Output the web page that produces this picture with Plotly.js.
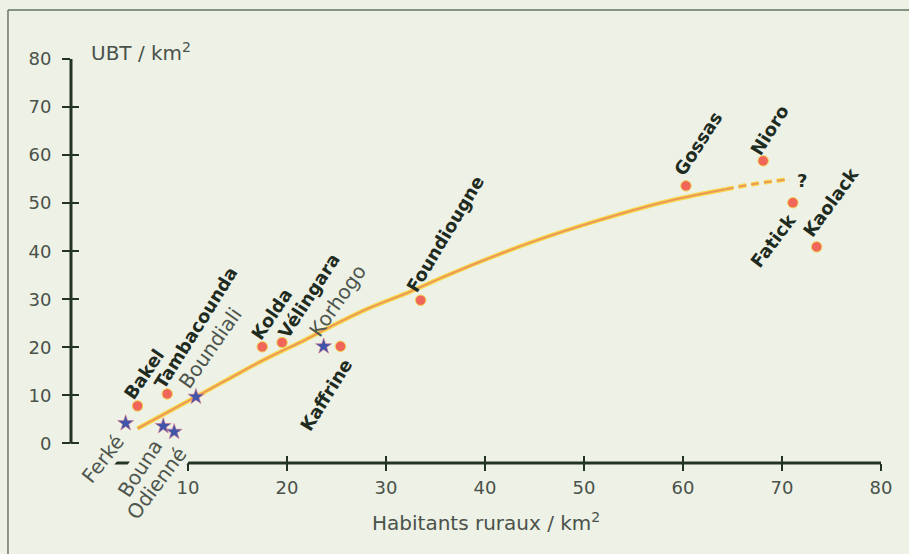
<!DOCTYPE html>
<html>
<head>
<meta charset="utf-8">
<script src="https://cdn.plot.ly/plotly-3.0.1.min.js"></script>
<style>html,body{margin:0;padding:0;background:#edf1e6;}#chart{width:909px;height:554px;}</style>
</head>
<body>
<div id="chart"></div>
<script>
// Senegal districts (red dots, bold labels)
const senegalNames = ['Bakel','Tambacounda','Kolda','Vélingara','Kaffrine','Foundiougne','Gossas','Nioro','Fatick','Kaolack'];
const senegalX = [4.9, 7.9, 17.5, 19.5, 25.4, 33.5, 60.3, 68.1, 71.1, 73.5];
const senegalY = [7.8, 10.3, 20.1, 21.0, 20.2, 29.8, 53.6, 58.8, 50.1, 40.9];

// Côte d'Ivoire districts (blue stars, regular labels)
const civNames = ['Ferké','Bouna','Odienné','Boundiali','Korhogo'];
const civX = [3.7, 7.5, 8.6, 10.8, 23.7];
const civY = [4.2, 3.6, 2.4, 9.7, 20.2];

// Trend curve (solid part, then dashed uncertain part)
const trendX = [4.9, 7.5, 10.8, 14, 17.3, 19.35, 21.3, 24.4, 28, 32.45, 36, 39.5, 45, 51.6, 58, 64.3];
const trendY = [3.1, 6.0, 9.7, 13.3, 17.0, 19.1, 21.0, 24.3, 27.9, 31.6, 34.8, 37.8, 42.1, 46.5, 50.2, 52.9];
const dashX = [64.3, 67.5, 70.8];
const dashY = [52.9, 54.1, 55.0];

// Axis ticks and titles
const xTicks = [10, 20, 30, 40, 50, 60, 70, 80];
const yTicks = [0, 10, 20, 30, 40, 50, 60, 70, 80];
const xTitle = 'Habitants ruraux / km<sup>2</sup>';
const yTitle = 'UBT / km<sup>2</sup>';
const unknownMark = '?';

// Label placement: [x (data), y, yref, angle, knock-out background]
const senegalLabelPos = [[5.6,14.5,'y',-56],[10.8,24.1,'y',-58],[18.4,26.9,'y',-56],[22.25,30.7,'y',-57],[24.0,10.1,'y',-58],[36.0,43.7,'y',-59],[61.5,62.5,'y',-57],[68.7,65.2,'y',-58],[69.1,42.3,'y',-53],[74.9,50.1,'y',-54]];
const civLabelPos = [[1.4,-3.25,'y',-52,true],[5.18,-0.0121,'paper',-57,true],[6.87,-0.0502,'paper',-53,true],[12.25,19.8,'y',-55,false],[25.1,29.6,'y',-55,false]];

const BG = '#edf1e6';
const AX = '#243424';
const TXT = '#4a524a';
const XR = [-1.82, 80];
const YR = [-4.08, 80];

const traces = [
  {x: trendX, y: trendY, mode: 'lines', line: {color: '#f4dc50', width: 4.5, shape: 'spline'}, hoverinfo: 'skip'},
  {x: trendX, y: trendY, mode: 'lines', line: {color: '#ee9658', width: 2, shape: 'spline'}, hoverinfo: 'skip'},
  {x: dashX, y: dashY, mode: 'lines', line: {color: '#f4dc50', width: 4.5, dash: '8px,5px', shape: 'spline'}, hoverinfo: 'skip'},
  {x: dashX, y: dashY, mode: 'lines', line: {color: '#ee9658', width: 2, dash: '8px,5px', shape: 'spline'}, hoverinfo: 'skip'},
  {x: senegalX, y: senegalY, text: senegalNames, mode: 'markers',
   marker: {symbol: 'circle', size: 10.5, color: '#f0665a', line: {color: '#f2d650', width: 1}}},
  {x: civX, y: civY, text: civNames, mode: 'markers',
   marker: {symbol: 'star', size: 12, color: '#3f55aa', line: {color: '#d8708a', width: 0.6}}},
  {x: [0], y: [0], xaxis: 'x2', yaxis: 'y2', mode: 'markers', marker: {opacity: 0}, hoverinfo: 'skip'}
];

const annotations = [];
senegalNames.forEach((n, i) => {
  const p = senegalLabelPos[i];
  annotations.push({x: p[0], y: p[1], xref: 'x', yref: p[2], text: '<b>' + n + '</b>', showarrow: false,
    textangle: p[3], xanchor: 'center', yanchor: 'middle', borderpad: 0,
    font: {family: 'DejaVu Sans', size: 18, color: '#1e2b1e'}});
});
civNames.forEach((n, i) => {
  const p = civLabelPos[i];
  const a = {x: p[0], y: p[1], xref: 'x', yref: p[2], text: n, showarrow: false,
    textangle: p[3], xanchor: 'center', yanchor: 'middle', borderpad: 0,
    font: {family: 'DejaVu Sans', size: 20, color: '#4d554d'}};
  if (p[4]) a.bgcolor = BG;
  annotations.push(a);
});
annotations.push({x: 72.0, y: 54.8, xref: 'x', yref: 'y', text: '<b>' + unknownMark + '</b>', showarrow: false,
  xanchor: 'center', yanchor: 'middle', font: {family: 'DejaVu Sans', size: 18, color: '#1e2b1e'}});
annotations.push({x: 40.1, y: -0.146, xref: 'x', yref: 'paper', text: xTitle, showarrow: false,
  xanchor: 'center', yanchor: 'middle', font: {family: 'DejaVu Sans', size: 20, color: TXT}});
annotations.push({x: -0.05, y: 1.0173, xref: 'x', yref: 'paper', text: yTitle, showarrow: false,
  xanchor: 'left', yanchor: 'middle', font: {family: 'DejaVu Sans', size: 20, color: TXT}});

const layout = {
  width: 909, height: 554,
  margin: {l: 71, r: 28, t: 59, b: 91, pad: 0},
  paper_bgcolor: BG, plot_bgcolor: BG,
  showlegend: false,
  font: {family: 'DejaVu Sans', size: 18, color: TXT},
  xaxis: {range: XR, showgrid: false, zeroline: false, showline: false,
    tickmode: 'array', tickvals: xTicks, ticks: 'outside', ticklen: 7, tickwidth: 2, tickcolor: AX,
    ticklabelstandoff: 1, tickfont: {family: 'DejaVu Sans', size: 18, color: TXT}},
  yaxis: {range: YR, showgrid: false, zeroline: false, showline: false,
    tickmode: 'array', tickvals: yTicks, ticks: 'outside', ticklen: 8, tickwidth: 2, tickcolor: AX,
    ticklabelstandoff: 7, tickfont: {family: 'DejaVu Sans', size: 18, color: TXT}},
  xaxis2: {range: XR, overlaying: 'x', anchor: 'y', side: 'bottom', showgrid: false, zeroline: false,
    tickmode: 'array', tickvals: xTicks, ticks: 'inside', ticklen: 7, tickwidth: 2, tickcolor: AX, showticklabels: false},
  yaxis2: {range: YR, overlaying: 'y', anchor: 'x', side: 'left', showgrid: false, zeroline: false,
    tickmode: 'array', tickvals: yTicks, ticks: 'inside', ticklen: 8, tickwidth: 2, tickcolor: AX, showticklabels: false},
  shapes: [
    {type: 'line', xref: 'paper', yref: 'y', x0: 0, x1: 0, y0: 0, y1: 80, line: {color: AX, width: 3}},
    {type: 'line', xref: 'x', yref: 'paper', x0: 0.5, x1: 80, y0: 0, y1: 0, line: {color: AX, width: 3}},
    {type: 'line', xref: 'paper', yref: 'paper', x0: -0.0778, x1: 1.04, y0: 1.1213, y1: 1.1213, line: {color: '#5e765e', width: 1.5}},
    {type: 'line', xref: 'paper', yref: 'paper', x0: -0.0778, x1: -0.0778, y0: 1.1213, y1: -0.24, line: {color: '#6b786b', width: 1.5}}
  ],
  annotations: annotations
};

Plotly.newPlot('chart', traces, layout, {displayModeBar: false, staticPlot: true});
</script>
</body>
</html>
